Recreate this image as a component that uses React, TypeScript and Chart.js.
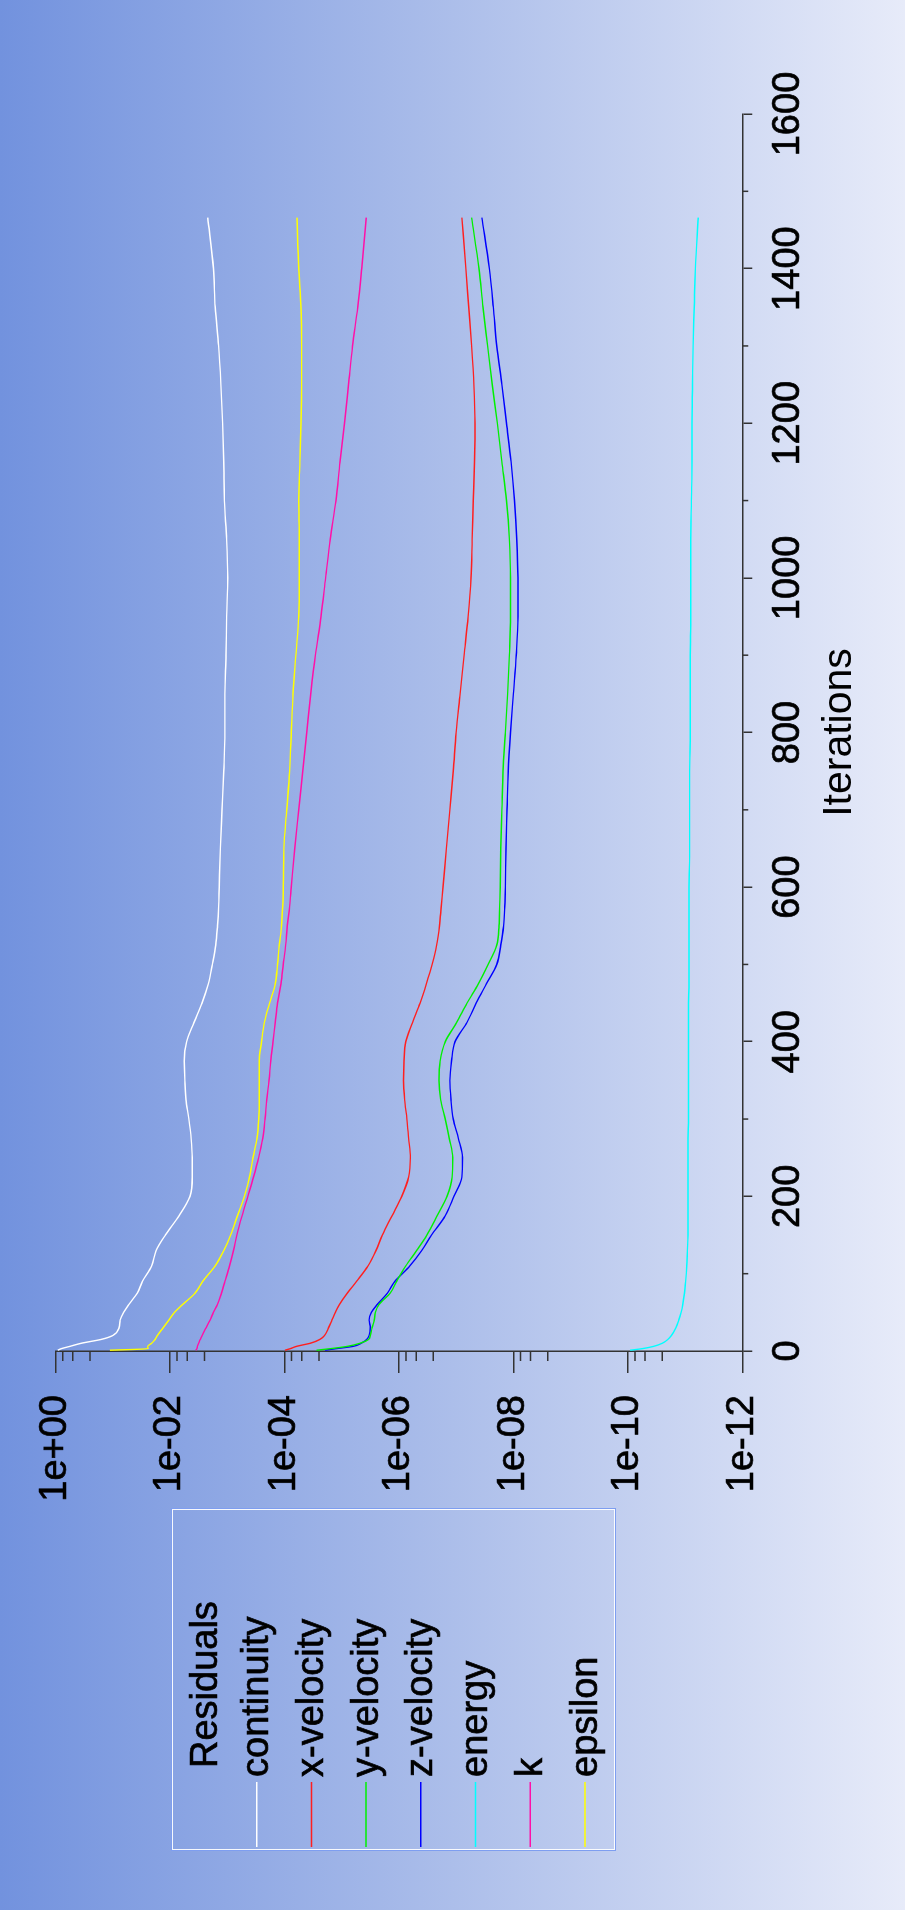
import React, { useEffect, useRef } from 'react';
import { Chart, registerables } from 'chart.js';

Chart.register(...registerables);

// ---------------- data ----------------
const iterations = [
  1, 3, 6, 10, 15, 20, 30, 40, 50, 60,
  75, 90, 110, 130, 150, 175, 200, 225, 250, 275,
  300, 325, 350, 375, 400, 425, 450, 475, 500, 525,
  550, 575, 600, 650, 700, 750, 800, 850, 900, 950,
  1000, 1050, 1100, 1150, 1200, 1250, 1300, 1350, 1400, 1466,
];

// residuals as log10 exponents
const continuityLog = [
  -0.04, -0.10, -0.25, -0.45, -0.80, -1.00, -1.11, -1.13, -1.19, -1.28,
  -1.43, -1.52, -1.68, -1.76, -1.92, -2.16, -2.35, -2.39, -2.39, -2.37,
  -2.33, -2.28, -2.26, -2.25, -2.29, -2.42, -2.56, -2.67, -2.74, -2.80,
  -2.83, -2.85, -2.86, -2.88, -2.91, -2.94, -2.96, -2.96, -2.98, -2.99,
  -3.01, -2.99, -2.95, -2.94, -2.92, -2.89, -2.85, -2.79, -2.76, -2.66,
];
const xVelocityLog = [
  -4.01, -4.10, -4.21, -4.45, -4.62, -4.70, -4.77, -4.83, -4.89, -4.96,
  -5.10, -5.26, -5.46, -5.60, -5.71, -5.88, -6.05, -6.17, -6.20, -6.17,
  -6.14, -6.10, -6.08, -6.09, -6.12, -6.24, -6.37, -6.48, -6.58, -6.66,
  -6.71, -6.74, -6.77, -6.83, -6.89, -6.95, -7.00, -7.07, -7.14, -7.21,
  -7.26, -7.28, -7.30, -7.32, -7.33, -7.31, -7.27, -7.22, -7.17, -7.10,
];
const yVelocityLog = [
  -4.56, -4.80, -5.10, -5.32, -5.47, -5.50, -5.53, -5.57, -5.59, -5.65,
  -5.85, -5.96, -6.12, -6.31, -6.49, -6.67, -6.84, -6.93, -6.94, -6.88,
  -6.81, -6.73, -6.70, -6.72, -6.81, -7.01, -7.19, -7.39, -7.56, -7.71,
  -7.75, -7.76, -7.77, -7.78, -7.80, -7.82, -7.86, -7.90, -7.93, -7.95,
  -7.95, -7.93, -7.88, -7.80, -7.72, -7.63, -7.55, -7.47, -7.40, -7.27,
];
const zVelocityLog = [
  -4.71, -4.90, -5.20, -5.34, -5.44, -5.48, -5.50, -5.48, -5.52, -5.62,
  -5.80, -5.93, -6.19, -6.40, -6.57, -6.81, -6.96, -7.10, -7.11, -7.04,
  -6.95, -6.91, -6.89, -6.92, -6.98, -7.19, -7.35, -7.53, -7.71, -7.78,
  -7.83, -7.85, -7.86, -7.87, -7.89, -7.91, -7.95, -8.00, -8.05, -8.08,
  -8.08, -8.06, -8.02, -7.96, -7.88, -7.80, -7.71, -7.65, -7.58, -7.45,
];
const energyLog = [
  -10.04, -10.25, -10.45, -10.60, -10.70, -10.76, -10.84, -10.89, -10.93, -10.96,
  -10.99, -11.01, -11.03, -11.04, -11.05, -11.05, -11.05, -11.05, -11.05, -11.05,
  -11.06, -11.06, -11.06, -11.06, -11.06, -11.06, -11.06, -11.07, -11.07, -11.07,
  -11.07, -11.07, -11.07, -11.08, -11.08, -11.08, -11.09, -11.09, -11.09, -11.10,
  -11.10, -11.10, -11.11, -11.12, -11.12, -11.13, -11.14, -11.16, -11.18, -11.23,
];
const kLog = [
  -2.45, -2.47, -2.48, -2.50, -2.53, -2.56, -2.63, -2.70, -2.76, -2.83,
  -2.90, -2.96, -3.04, -3.11, -3.17, -3.26, -3.36, -3.46, -3.55, -3.62,
  -3.66, -3.69, -3.73, -3.76, -3.80, -3.84, -3.88, -3.94, -3.98, -4.02,
  -4.05, -4.09, -4.12, -4.18, -4.25, -4.32, -4.39, -4.46, -4.54, -4.64,
  -4.72, -4.80, -4.90, -4.97, -5.05, -5.12, -5.19, -5.28, -5.35, -5.43,
];
const epsilonLog = [
  -0.95, -1.62, -1.61, -1.68, -1.74, -1.78, -1.88, -1.98, -2.08, -2.22,
  -2.44, -2.57, -2.79, -2.94, -3.06, -3.18, -3.30, -3.39, -3.45, -3.52,
  -3.55, -3.56, -3.56, -3.56, -3.60, -3.65, -3.74, -3.84, -3.88, -3.91,
  -3.95, -3.97, -3.98, -3.99, -4.04, -4.09, -4.12, -4.15, -4.20, -4.25,
  -4.26, -4.26, -4.25, -4.27, -4.29, -4.30, -4.30, -4.29, -4.25, -4.22,
];

const seriesNames = ['continuity', 'x-velocity', 'y-velocity', 'z-velocity', 'energy', 'k', 'epsilon'];
const seriesLogs = [continuityLog, xVelocityLog, yVelocityLog, zVelocityLog, energyLog, kLog, epsilonLog];
const seriesColors = ['#ffffff', '#ff1f1f', '#00f000', '#0000ff', '#00ffff', '#ff10a8', '#ffff00'];

const yTickExponents = [0, -2, -4, -6, -8, -10, -12];
const yMinorFactors = [0.75, 0.5, 0.25];
const xMin = 0;
const xMax = 1600;
const xMajorStep = 200;
const xMinorTicks = [100, 300, 500, 700, 900, 1100, 1300, 1500];
const legendTitle = 'Residuals';
const xTitle = 'Iterations';

// ---------------- layout (canvas drawn landscape, then rotated) ----------------
const CW = 1910;
const CH = 905;
const FONT = '"Liberation Sans", Arial, Helvetica, sans-serif';
const AXIS_COLOR = '#333333';
const TEXT_STROKE = 0.7;

function fmtExp(v: number) {
  const e = Math.round(Math.log10(v));
  return '1e' + (e >= 0 ? '+' : '-') + String(Math.abs(e)).padStart(2, '0');
}

const minorTickPlugin = {
  id: 'minorTicks',
  afterDraw(chart: any) {
    const ctx = chart.ctx;
    const { left, bottom } = chart.chartArea;
    const ys = chart.scales.y;
    const xs = chart.scales.x;
    ctx.save();
    ctx.strokeStyle = AXIS_COLOR;
    ctx.lineWidth = 1.5;
    ctx.beginPath();
    yTickExponents.forEach((e) => {
      yMinorFactors.forEach((f) => {
        const v = f * Math.pow(10, e);
        if (v < ys.min || v > ys.max) return;
        const p = ys.getPixelForValue(v);
        ctx.moveTo(left - 10, p);
        ctx.lineTo(left, p);
      });
    });
    xMinorTicks.forEach((it) => {
      const p = xs.getPixelForValue(it);
      ctx.moveTo(p, bottom);
      ctx.lineTo(p, bottom + 6);
    });
    ctx.stroke();
    ctx.restore();
  },
};

function heavyText(ctx: CanvasRenderingContext2D, s: string, x: number, y: number) {
  ctx.fillText(s, x, y);
  ctx.lineWidth = TEXT_STROKE;
  ctx.strokeStyle = '#000';
  ctx.strokeText(s, x, y);
}

const legendPlugin = {
  id: 'residualLegend',
  afterDraw(chart: any) {
    const ctx = chart.ctx;
    ctx.save();
    ctx.lineWidth = 1;
    ctx.strokeStyle = '#7e9ef0';
    ctx.strokeRect(59.5, 171.5, 342, 444);
    ctx.strokeStyle = 'rgba(255,255,255,0.92)';
    ctx.strokeRect(60.5, 172.5, 340, 442);
    ctx.font = '38px ' + FONT;
    ctx.fillStyle = '#000';
    ctx.textBaseline = 'alphabetic';
    ctx.textAlign = 'left';
    heavyText(ctx, legendTitle, 142, 216.7);
    chart.data.datasets.forEach((ds: any, i: number) => {
      const v = 256.7 + i * 54.7;
      ctx.strokeStyle = ds.borderColor;
      ctx.lineWidth = 1.5;
      ctx.beginPath();
      ctx.moveTo(63, v);
      ctx.lineTo(128, v);
      ctx.stroke();
      heavyText(ctx, ds.label, 133, v + 11.6);
    });
    ctx.restore();
  },
};

export default function App() {
  const ref = useRef<HTMLCanvasElement | null>(null);

  useEffect(() => {
    document.body.style.margin = '0';
    if (!ref.current) return;
    Chart.defaults.font.family = FONT;
    Chart.defaults.color = '#000';

    const datasets = seriesNames.map((name, i) => ({
      label: name,
      data: iterations.map((it, j) => ({ x: it, y: Math.pow(10, seriesLogs[i][j]) })),
      borderColor: seriesColors[i],
      backgroundColor: seriesColors[i],
      borderWidth: 1.4,
      pointRadius: 0,
      fill: false,
      cubicInterpolationMode: 'monotone' as const,
    }));

    const chart = new Chart(ref.current, {
      type: 'line',
      data: { datasets },
      plugins: [minorTickPlugin, legendPlugin],
      options: {
        responsive: false,
        animation: false,
        devicePixelRatio: 1,
        events: [],
        layout: { padding: { left: 0, top: 55.5, right: 114, bottom: 40.4 } },
        plugins: {
          legend: { display: false },
          tooltip: { enabled: false },
          title: { display: false },
        },
        scales: {
          x: {
            type: 'linear',
            min: xMin,
            max: xMax,
            afterFit: (s: any) => { s.height = 122.3; },
            ticks: {
              stepSize: xMajorStep,
              autoSkip: false,
              maxRotation: 0,
              minRotation: 0,
              padding: 13,
              color: '#000',
              textStrokeColor: '#000',
              textStrokeWidth: TEXT_STROKE,
              font: { size: 38, family: FONT },
              callback: (v: any) => String(Math.round(Number(v))),
            },
            grid: { drawOnChartArea: false, drawTicks: true, tickLength: 10, color: AXIS_COLOR, lineWidth: 1.5 },
            border: { display: true, color: AXIS_COLOR, width: 1.5 },
            title: {
              display: true,
              text: xTitle,
              color: '#000',
              font: { size: 41, family: FONT },
              padding: { top: 0, bottom: 0 },
            },
          },
          y: {
            type: 'logarithmic',
            min: Math.pow(10, yTickExponents[yTickExponents.length - 1]),
            max: Math.pow(10, yTickExponents[0]),
            afterFit: (s: any) => { s.width = 559; },
            afterBuildTicks: (s: any) => {
              s.ticks = yTickExponents.map((e) => ({ value: Math.pow(10, e) }));
            },
            ticks: {
              autoSkip: false,
              padding: 22,
              color: '#000',
              textStrokeColor: '#000',
              textStrokeWidth: TEXT_STROKE,
              font: { size: 38, family: FONT },
              callback: (v: any) => fmtExp(Number(v)),
            },
            grid: { drawOnChartArea: false, drawTicks: true, tickLength: 22, color: AXIS_COLOR, lineWidth: 1.5 },
            border: { display: true, color: AXIS_COLOR, width: 1.5 },
          },
        },
      } as any,
    });
    return () => chart.destroy();
  }, []);

  return (
    <div
      style={{
        position: 'relative',
        width: 905,
        height: 1910,
        overflow: 'hidden',
        background: 'linear-gradient(to right, #7292de 0%, #acbeea 50%, #e7ebf9 100%)',
      }}
    >
      <div
        style={{
          position: 'absolute',
          left: 0,
          top: 0,
          width: CW,
          height: CH,
          transformOrigin: '0 0',
          transform: `translate(0px, ${CW}px) rotate(-90deg)`,
        }}
      >
        <canvas ref={ref} width={CW} height={CH} style={{ display: 'block', width: CW, height: CH }} />
      </div>
    </div>
  );
}
